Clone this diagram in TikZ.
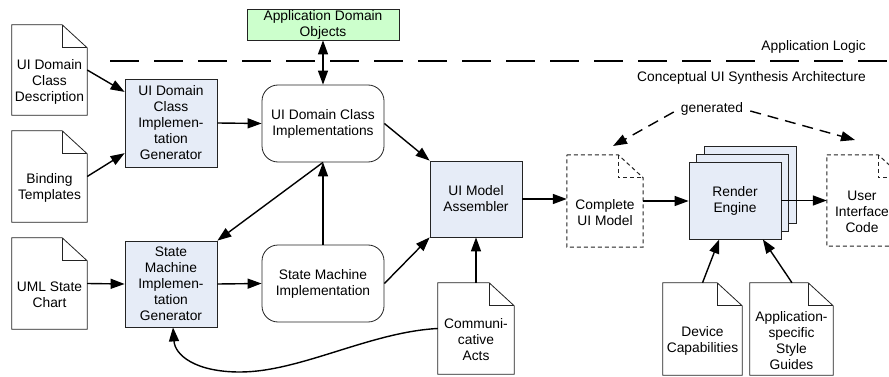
\documentclass[tikz,border=0pt]{standalone}
\usepackage{fontspec}
\setmainfont{Liberation Sans}
\usetikzlibrary{arrows.meta,calc}

\definecolor{boxblue}{RGB}{230,236,247}
\definecolor{objgreen}{RGB}{204,255,204}
\definecolor{edge}{RGB}{35,35,35}

\tikzset{
  txt/.style={font=\fontsize{13.8}{16}\selectfont, align=center, inner sep=0pt},
  genbox/.style={txt, draw=edge, line width=0.8pt, fill=boxblue, minimum width=92pt},
  roundbox/.style={txt, draw=edge, line width=0.8pt, fill=white, rounded corners=16pt,
    minimum width=122pt, minimum height=77pt},
  docbox/.style={inner sep=0pt},
  doctext/.style={},
  docline/.style={draw=edge, line width=0.8pt},
  docdash/.style={line width=1pt, dash pattern=on 4pt off 3pt},
  tip/.tip={Triangle[length=14pt,width=10pt]},
  flow/.style={line width=1.4pt, -tip},
  bothflow/.style={line width=1.4pt, tip-tip},
  genflow/.style={line width=1.4pt, -tip, dash pattern=on 11pt off 7pt},
  sepline/.style={line width=2pt, dash pattern=on 29pt off 15pt},
}

% document symbol with a folded top-right corner; text sits below the fold
\newcommand\docnode[7][]{%
  \node[docbox, minimum width=#5pt, minimum height=#6pt] (#2) at (#3,#4) {};
  \draw[docline, fill=white, #1] (#2.north west) -- ([xshift=-25pt]#2.north east)
    -- ([yshift=-23pt]#2.north east) -- (#2.south east) -- (#2.south west) -- cycle;
  \draw[docline, #1] ([xshift=-25pt]#2.north east) |- ([yshift=-23pt]#2.north east);
  \node[txt, doctext] (#2-text) at ($(#2.center)+(0,11.5)$) {#7};
}

\begin{document}
\begin{tikzpicture}[x=1pt, y=-1pt]
\clip (0,0) rectangle (889,377);
\fill[white] (0,0) rectangle (889,377);

% layer separator and its captions
\coordinate (sepL) at (110,61);
\coordinate (sepR) at (889,61);
\draw[sepline] (sepL) -- (sepR);
\node[txt, anchor=east] (applogic) at (866,47) {Application Logic};
\node[txt, anchor=east] (synth) at (866,78) {Conceptual UI Synthesis Architecture};

% application side
\node[txt, draw=edge, line width=0.8pt, fill=objgreen, minimum width=152pt, minimum height=31pt]
  (ado) at (323,24.5) {Application Domain\\Objects};

% input documents
\docnode{udcd}{49.5}{70}{75}{90}{UI Domain\\Class\\Description}
\docnode{bind}{49.5}{176.5}{75}{91}{Binding\\Templates}
\docnode{uml}{49.5}{283.5}{75}{91}{UML State\\Chart}
\docnode{comm}{476}{328.5}{76}{91}{Communi-\\cative\\Acts}
\docnode{dev}{702.5}{329}{79}{92}{Device\\Capabilities}
\docnode{asg}{791.5}{329}{83}{92}{Application-\\specific\\Style\\Guides}

% generated documents
\docnode[docdash]{cuim}{605}{201}{76}{92}{Complete\\UI Model}
\begin{scope}[doctext/.style={xshift=-3pt}]
\docnode[docdash]{uic}{865}{200.5}{76}{91}{User\\Interface\\Code}
\end{scope}

% generators and intermediate artefacts
\node[genbox, minimum height=88pt] (gen1) at (171,123) {UI Domain\\Class\\Implemen-\\tation\\Generator};
\node[genbox, minimum height=86pt] (gen2) at (171,284) {State\\Machine\\Implemen-\\tation\\Generator};
\node[roundbox] (udci) at (323,123.5) {UI Domain Class\\Implementations};
\node[roundbox] (smi) at (323,283.5) {State Machine\\Implementation};
\node[genbox, minimum height=76pt] (uima) at (476,199) {UI Model\\Assembler};

% stacked render engines
\node[genbox, minimum height=77pt] (render3) at (750,184.5) {};
\node[genbox, minimum height=77pt] (render2) at (742.5,192.5) {};
\node[genbox, minimum height=77pt] (render) at (735,200.5) {Render\\Engine};

% connectors
\draw[flow] (udcd.east) -- ($(gen1.north west)!0.15!(gen1.south west)$);
\draw[flow] (bind.east) -- ($(gen1.north west)!0.84!(gen1.south west)$);
\draw[flow] (uml.east) -- (gen2.west);
\draw[flow] (gen1.east) -- (udci.west);
\draw[flow] (gen2.east) -- (smi.west);
\draw[flow] (smi.north) -- (udci.south);
\draw[flow] (udci.south) -- (gen2.north east);
\draw[bothflow] (ado.south) -- (udci.north);
\draw[flow] (udci.east) -- (uima.north west);
\draw[flow] (smi.east) -- (uima.south west);
\draw[flow] (comm.north) -- (uima.south);
\draw[flow] (comm.west) .. controls (370,332) and (300,372) .. (240,372)
  .. controls (195,372) and (175,355) .. ([xshift=2pt]gen2.south);
\draw[flow] (uima.east) -- (uima.east -| cuim.west);
\draw[flow] (cuim.east) -- (cuim.east -| render.west);
\draw[flow] (render.east) -- (render.east -| uic.west);
\draw[flow] (dev.north) -- ($(render.south west)!0.33!(render.south east)$);
\draw[flow] ([xshift=0.5pt]asg.north) -- ($(render.south west)!0.8!(render.south east)$);

% "generated" annotation
\node[txt, inner sep=7pt] (genlabel) at (712,109) {generated};
\coordinate (cuimtip) at (613,146);
\coordinate (uictip) at (855,140);
\draw[genflow] ([yshift=-3pt]genlabel.west) -- (cuimtip);
\draw[genflow] ([yshift=-2pt]genlabel.east) -- (uictip);
\end{tikzpicture}
\end{document}
